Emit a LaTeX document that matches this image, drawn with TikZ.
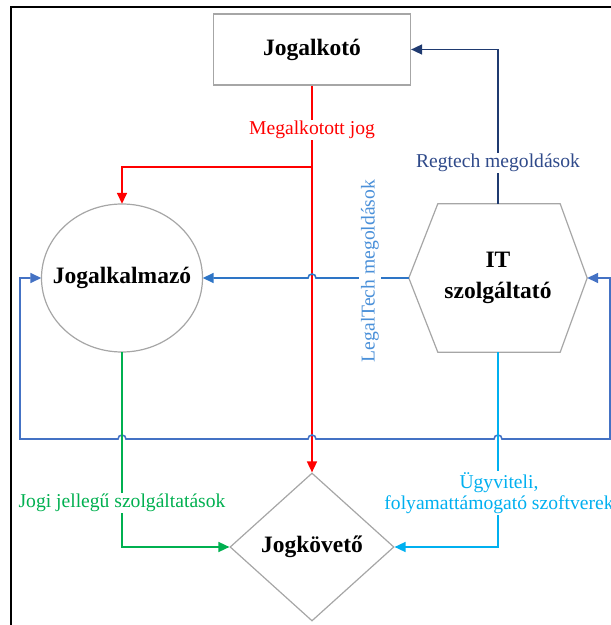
\documentclass[tikz,border=0pt]{standalone}
\usepackage{fontspec}
\setmainfont{Liberation Serif}
\usetikzlibrary{arrows.meta,shapes.geometric,calc}
\definecolor{cgray}{HTML}{A6A6A6}
\definecolor{cred}{HTML}{FF0000}
\definecolor{cnavy}{HTML}{1F3A70}
\definecolor{cnavytext}{HTML}{2F4A8A}
\definecolor{clegal}{HTML}{2E75C6}
\definecolor{clegaltext}{HTML}{4A90D9}
\definecolor{cloop}{HTML}{4472C4}
\definecolor{cgreen}{HTML}{00B050}
\definecolor{ccyan}{HTML}{00B0F0}
\begin{document}
\begin{tikzpicture}[x=1pt,y=1pt,
  tri/.style={-{Triangle[length=11pt,width=10pt]}},
  shapeborder/.style={draw=cgray,line width=1.2pt},
  nodetext/.style={font=\fontsize{23.5}{31}\selectfont\bfseries,text=black,align=center},
  lbl/.style={font=\fontsize{19.6}{21}\selectfont,fill=white,inner sep=1pt,align=center},
  conn/.style={line width=1.6pt}
]
\useasboundingbox (0,0) rectangle (611,625);
\draw[line width=1.5pt] (11,-20) -- (11,618) -- (660,618);

% nodes
\node[shapeborder,rectangle,minimum width=197pt,minimum height=71pt,nodetext] (jogalkoto) at (312,575.5) {Jogalkotó};
\node[rectangle,minimum width=161pt,minimum height=148pt,inner sep=0pt,nodetext] (jogalk) at (122,347) {Jogalkalmazó};
\draw[shapeborder] (jogalk.center) ellipse [x radius=80.5pt, y radius=74pt];
\node[rectangle,minimum width=178pt,minimum height=148pt,inner sep=0pt,nodetext] (it) at (498,347) {IT\\szolgáltató};
\draw[shapeborder] (it.west) -- ($(it.north west)+(29,0)$) -- ($(it.north east)+(-27,0)$) -- (it.east)
  -- ($(it.south east)+(-27,0)$) -- ($(it.south west)+(29,0)$) -- cycle;
\node[shapeborder,diamond,aspect=1.11,minimum width=164pt,minimum height=148pt,inner sep=0pt,nodetext] (jogk) at (312,78) {Jogkövető};

% coordinates
\coordinate (redsplit) at (312,458);
\coordinate (loopL) at (20,186);
\coordinate (loopR) at (610,186);

% red
\draw[conn,draw=cred,tri,color=cred] (jogalkoto.south) -- (jogk.north);
\draw[conn,draw=cred,tri,color=cred] (jogalkoto.south |- redsplit) -| (jogalk.north);

% regtech
\draw[conn,color=cnavy,tri] (it.north) |- (jogalkoto.east);

% legaltech
\draw[conn,color=clegal,tri] (it.west) -- ($(jogk.north |- it.west)+(4,0)$)
  arc[start angle=0,end angle=180,radius=4pt] -- (jogalk.east);

% loop
\draw[conn,color=cloop,{Triangle[length=11pt,width=10pt]}-{Triangle[length=11pt,width=10pt]}]
  (jogalk.west) -- (loopL |- jogalk.west) -- (loopL)
  -- ($(jogalk.south |- loopL)+(-4,0)$) arc[start angle=180,end angle=0,radius=4pt]
  -- ($(jogk.north |- loopL)+(-4,0)$) arc[start angle=180,end angle=0,radius=4pt]
  -- ($(it.south |- loopL)+(-4,0)$) arc[start angle=180,end angle=0,radius=4pt]
  -- (loopR) -- (loopR |- it.east) -- (it.east);

% green and cyan
\draw[conn,color=cgreen,tri] (jogalk.south) |- (jogk.west);
\draw[conn,color=ccyan,tri] (it.south) |- (jogk.east);

% labels
\node[lbl,text=cred] (lmeg) at (312,495) {Megalkotott jog};
\node[lbl,text=cnavytext] (lreg) at (498,462) {Regtech megoldások};
\node[lbl,text=clegaltext,rotate=90,inner sep=2pt] (lleg) at (370,354) {LegalTech megoldások};
\node[lbl,text=cgreen] (ljogi) at (122,122) {Jogi jellegű szolgáltatások};
\node[lbl,text=ccyan] (lugy) at (499,132) {Ügyviteli,\\folyamattámogató szoftverek};
\end{tikzpicture}
\end{document}
